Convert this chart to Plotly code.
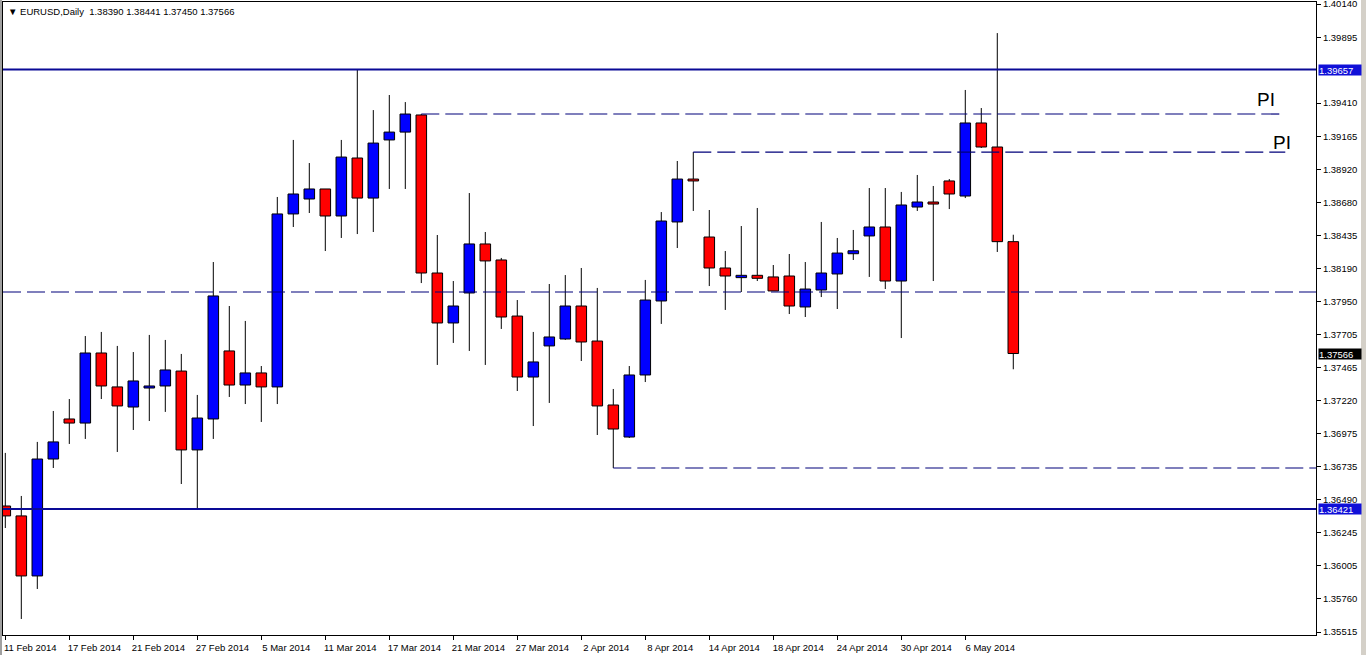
import plotly.graph_objects as go

# ---------------- data ----------------
header = "\u25bc EURUSD,Daily  1.38390 1.38441 1.37450 1.37566"

open_ = [1.36443, 1.36370, 1.35928, 1.36789, 1.37084, 1.37054, 1.37570, 1.37320,
         1.37172, 1.37312, 1.37327, 1.37437, 1.36856, 1.37084, 1.37585, 1.37334,
         1.37423, 1.37320, 1.38594, 1.38704, 1.38778, 1.38579, 1.39006, 1.38711,
         1.39139, 1.39197, 1.39323, 1.38159, 1.37791, 1.38012, 1.38373, 1.38255,
         1.37842, 1.37393, 1.37622, 1.37673, 1.37916, 1.37658, 1.37187, 1.36951,
         1.37408, 1.37953, 1.38535, 1.38851, 1.38424, 1.38196, 1.38125, 1.38142,
         1.38130, 1.38137, 1.37909, 1.38034, 1.38152, 1.38301, 1.38432, 1.38498,
         1.38100, 1.38645, 1.38682, 1.38837, 1.38726, 1.39264, 1.39087, 1.38390]
high_ = [1.36834, 1.36517, 1.36915, 1.37143, 1.37231, 1.37695, 1.37725, 1.37622,
         1.37577, 1.37703, 1.37666, 1.37563, 1.37261, 1.38240, 1.37916, 1.37806,
         1.37474, 1.38719, 1.39139, 1.38969, 1.38778, 1.39139, 1.39657, 1.39359,
         1.39470, 1.39418, 1.39330, 1.38439, 1.38100, 1.38748, 1.38461, 1.38270,
         1.37960, 1.37725, 1.38078, 1.38144, 1.38196, 1.38049, 1.37305, 1.37474,
         1.38108, 1.38608, 1.38984, 1.39050, 1.38623, 1.38321, 1.38505, 1.38638,
         1.38218, 1.38299, 1.38240, 1.38535, 1.38417, 1.38476, 1.38785, 1.38785,
         1.38756, 1.38881, 1.38800, 1.38851, 1.39507, 1.39374, 1.39926, 1.38441]
low_ = [1.36281, 1.35611, 1.35832, 1.36723, 1.36900, 1.36937, 1.37231, 1.36841,
        1.37003, 1.37069, 1.37136, 1.36605, 1.36421, 1.36937, 1.37246, 1.37194,
        1.37062, 1.37194, 1.38498, 1.38601, 1.38321, 1.38417, 1.38446, 1.38461,
        1.38778, 1.38778, 1.38085, 1.37482, 1.37644, 1.37585, 1.37482, 1.37747,
        1.37290, 1.37032, 1.37202, 1.37666, 1.37511, 1.36966, 1.36723, 1.36944,
        1.37356, 1.37784, 1.38343, 1.38616, 1.38063, 1.37887, 1.38019, 1.38100,
        1.38027, 1.37857, 1.37835, 1.37982, 1.37894, 1.38255, 1.38130, 1.38041,
        1.37680, 1.38616, 1.38100, 1.38630, 1.38711, 1.39080, 1.38314, 1.37450]
close_ = [1.36370, 1.35928, 1.36789, 1.36915, 1.37054, 1.37570, 1.37327, 1.37180,
          1.37364, 1.37327, 1.37445, 1.36856, 1.37091, 1.37990, 1.37334, 1.37423,
          1.37320, 1.38594, 1.38741, 1.38778, 1.38579, 1.39013, 1.38711, 1.39116,
          1.39197, 1.39330, 1.38159, 1.37791, 1.37916, 1.38373, 1.38248, 1.37835,
          1.37393, 1.37504, 1.37688, 1.37916, 1.37651, 1.37180, 1.37010, 1.37408,
          1.37960, 1.38542, 1.38851, 1.38837, 1.38196, 1.38137, 1.38142, 1.38120,
          1.38027, 1.37916, 1.38041, 1.38159, 1.38306, 1.38323, 1.38498, 1.38100,
          1.38660, 1.38682, 1.38667, 1.38741, 1.39264, 1.39087, 1.38390, 1.37566]

tick_bars = [0, 4, 8, 12, 16, 20, 24, 28, 32, 36, 40, 44, 48, 52, 56, 60]
tick_labels = ["11 Feb 2014", "17 Feb 2014", "21 Feb 2014", "27 Feb 2014",
               "5 Mar 2014", "11 Mar 2014", "17 Mar 2014", "21 Mar 2014",
               "27 Mar 2014", "2 Apr 2014", "8 Apr 2014", "14 Apr 2014",
               "18 Apr 2014", "24 Apr 2014", "30 Apr 2014", "6 May 2014"]

price_ticks = [1.40140, 1.39895, 1.39410, 1.39165, 1.38920, 1.38680, 1.38435,
               1.38190, 1.37950, 1.37705, 1.37465, 1.37220, 1.36975, 1.36735,
               1.36490, 1.36245, 1.36005, 1.35760, 1.35515]

solid_levels = [1.39657, 1.36421]
dashed_levels = [1.39330, 1.39050, 1.38019, 1.36723]
dashed_from_bar = [26, 43, None, 38]
dashed_to_bar = [80, 80, None, None]
dashed_text = ["PI", "PI", "", ""]

# ---------------- styles ----------------
UP = "#0000ff"
DOWN = "#ff0000"
LINE_BLUE = "#0a0a96"
DASH_BLUE = "#00007a"
BOX_BLUE = "#1010d8"
FONT = "Liberation Sans, Arial, sans-serif"

n = len(open_)
x = list(range(n))

body_base = [min(o, c) for o, c in zip(open_, close_)]
body_h = [max(abs(c - o), 0.00006) for o, c in zip(open_, close_)]
body_col = [DOWN if c < o else UP for o, c in zip(open_, close_)]

wx, wy = [], []
for i, (o, h, l, c) in enumerate(zip(open_, high_, low_, close_)):
    top, bot = max(o, c), min(o, c)
    if h > top:
        wx += [i, i, None]
        wy += [h, top, None]
    if l < bot:
        wx += [i, i, None]
        wy += [bot, l, None]

fig = go.Figure()
fig.add_trace(go.Scatter(x=wx, y=wy, mode="lines",
                         line=dict(color="black", width=1),
                         hoverinfo="skip"))
fig.add_trace(go.Bar(x=x, y=body_h, base=body_base, width=0.66,
                     marker=dict(color=body_col, line=dict(color="black", width=1)),
                     hoverinfo="skip"))

DASH = "18px,6px"
shapes = []
for lv in solid_levels:
    shapes.append(dict(type="line", xref="paper", x0=0, x1=1, yref="y", y0=lv, y1=lv,
                       line=dict(color=LINE_BLUE, width=2), layer="above"))
for lv, a, b in zip(dashed_levels, dashed_from_bar, dashed_to_bar):
    if a is None:
        shapes.append(dict(type="line", xref="paper", x0=0, x1=1, yref="y", y0=lv, y1=lv,
                           line=dict(color=DASH_BLUE, width=1.2, dash=DASH), layer="above"))
    elif b is None:
        shapes.append(dict(type="line", xref="x", x0=a, x1=81.92, yref="y", y0=lv, y1=lv,
                           line=dict(color=DASH_BLUE, width=1.2, dash=DASH), layer="above"))
    else:
        shapes.append(dict(type="line", xref="x", x0=a, x1=b, yref="y", y0=lv, y1=lv,
                           line=dict(color=DASH_BLUE, width=1.2, dash=DASH), layer="above"))

# window borders
shapes.append(dict(type="rect", xref="paper", yref="paper", x0=-3 / 1313, x1=-1 / 1313,
                   y0=-0.05, y1=1.01, fillcolor="#a0a0a0", line=dict(width=0), layer="above"))
shapes.append(dict(type="rect", xref="paper", yref="paper", x0=1358 / 1313, x1=1363 / 1313,
                   y0=-0.05, y1=1.01, fillcolor="#d4d0c8", line=dict(width=0), layer="above"))

annotations = []
annotations.append(dict(xref="paper", yref="paper", x=0, y=1, xanchor="left", yanchor="top",
                        xshift=3, yshift=-2, text=header, showarrow=False,
                        font=dict(family=FONT, size=9.5, color="black")))
pi_shift = [-8, 8]
k = 0
for lv, b, t in zip(dashed_levels, dashed_to_bar, dashed_text):
    if t:
        annotations.append(dict(xref="x", yref="y", x=b, y=lv, xanchor="right", yanchor="bottom",
                                xshift=pi_shift[k], yshift=(2 if k == 0 else -3), text=t,
                                showarrow=False, font=dict(family=FONT, size=19, color="black")))
        k += 1
for lv in solid_levels:
    annotations.append(dict(xref="paper", yref="y", x=1, y=lv, xanchor="left", yanchor="middle",
                            xshift=2, text=f"{lv:.5f}", showarrow=False, bgcolor=BOX_BLUE,
                            width=42, height=10, align="left", borderpad=0,
                            font=dict(family=FONT, size=9.5, color="white")))
annotations.append(dict(xref="paper", yref="y", x=1, y=close_[-1], xanchor="left", yanchor="middle",
                        xshift=2, text=f"{close_[-1]:.5f}", showarrow=False, bgcolor="black",
                        width=42, height=10, align="left", borderpad=0,
                        font=dict(family=FONT, size=9.5, color="white")))

fig.update_layout(
    width=1366, height=655, autosize=False,
    margin=dict(l=3, r=50, t=2, b=20, autoexpand=False),
    paper_bgcolor="white", plot_bgcolor="white",
    showlegend=False,
    font=dict(family=FONT, size=9.5, color="black"),
    shapes=shapes, annotations=annotations,
    xaxis=dict(range=[-0.144, 81.92], tickmode="array", tickvals=tick_bars, ticktext=tick_labels,
               ticks="outside", ticklen=4, tickcolor="black", showline=True, linecolor="black",
               linewidth=1, mirror=True, showgrid=False, zeroline=False, ticklabelshift=25,
               automargin=False, fixedrange=True),
    yaxis=dict(range=[1.35493, 1.40155], side="right", tickmode="array", tickvals=price_ticks,
               tickformat=".5f", ticks="outside", ticklen=4, tickcolor="black", showline=True,
               linecolor="black", linewidth=1, mirror=True, showgrid=False, zeroline=False,
               ticklabeloverflow="allow", automargin=False, fixedrange=True),
)

fig.write_html("out.html", config={"displayModeBar": False},
               post_script="document.body.style.margin='0';document.body.style.overflow='hidden';")
